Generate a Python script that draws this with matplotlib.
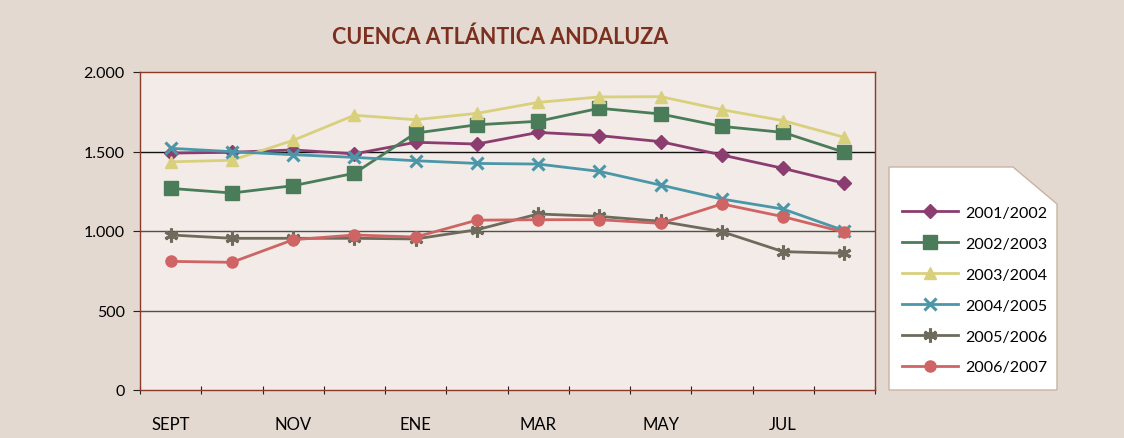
import matplotlib
matplotlib.use("Agg")
import matplotlib.pyplot as plt
from matplotlib.patches import Polygon
from matplotlib.ticker import FuncFormatter

matplotlib.rcParams['font.family'] = ['Lato', 'DejaVu Sans']

months = ['SEPT', 'OCT', 'NOV', 'DIC', 'ENE', 'FEB', 'MAR', 'ABR', 'MAY', 'JUN', 'JUL', 'AGO']
s2001 = [1490, 1495, 1510, 1485, 1558, 1547, 1620, 1600, 1562, 1478, 1394, 1300]
s2002 = [1268, 1239, 1285, 1363, 1616, 1668, 1690, 1772, 1736, 1658, 1620, 1495]
s2003 = [1435, 1445, 1570, 1728, 1700, 1740, 1809, 1843, 1845, 1763, 1694, 1589]
s2004 = [1520, 1499, 1480, 1463, 1442, 1425, 1421, 1375, 1289, 1201, 1138, 1002]
s2005 = [975, 954, 954, 954, 950, 1008, 1107, 1092, 1061, 996, 870, 860]
s2006 = [809, 803, 945, 975, 962, 1068, 1071, 1071, 1048, 1170, 1090, 992]

series = [
    ('2001/2002', s2001, '#8B3D70', 'D', 7, 1),
    ('2002/2003', s2002, '#4A7C59', 's', 10, 1),
    ('2003/2004', s2003, '#D9D07E', '^', 9, 1),
    ('2004/2005', s2004, '#4B97A8', 'x', 9, 2.2),
    ('2005/2006', s2005, '#6E6B5C', (6, 2, 0), 10, 2.2),
    ('2006/2007', s2006, '#CF6464', 'o', 8, 1),
]

fig = plt.figure(figsize=(11.24, 4.39), dpi=100)
fig.patch.set_facecolor('#E4D9D0')
ax = fig.add_axes([140 / 1124, 48 / 439, 735 / 1124, 318 / 439])
ax.set_facecolor('#F2EBE7')

x = list(range(len(months)))
for name, vals, col, mk, ms, mew in series:
    ax.plot(x, vals, color=col, lw=2, marker=mk, markersize=ms,
            markeredgewidth=mew, markeredgecolor=col, markerfacecolor=col,
            label=name)

ax.set_ylim(0, 2000)
ax.set_xlim(-0.5, 11.5)
ax.set_yticks([0, 500, 1000, 1500, 2000])
ax.yaxis.set_major_formatter(FuncFormatter(lambda v, p: f'{int(v):,}'.replace(',', '.')))
for v, c in [(500, '#505050'), (1000, '#505050'), (1500, '#111111')]:
    ax.axhline(v, color=c, lw=1, zorder=0.5)

ax.set_xticks([i - 0.5 for i in range(13)])
ax.set_xticklabels([])
ax.set_xticks(x[::2], minor=True)
ax.set_xticklabels(months[::2], minor=True)
ax.tick_params(axis='x', which='major', direction='inout', length=6, color='#222222')
ax.tick_params(axis='x', which='minor', length=0, pad=19, labelsize=12)
ax.tick_params(axis='y', direction='out', length=5, color='#222222', labelsize=11.5, pad=6)

for sp in ax.spines.values():
    sp.set_color('#8B3A2A')
    sp.set_linewidth(1)

fig.text(500 / 1124, 1 - 37 / 439, 'CUENCA ATLÁNTICA ANDALUZA', ha='center', va='center',
         fontsize=15.5, fontweight='bold', color='#7B2F1E')

pts = [(889, 168), (1013, 168), (1057, 205), (1057, 391), (889, 391)]
poly = Polygon([(px / 1124, 1 - py / 439) for px, py in pts], closed=True,
               transform=fig.transFigure, facecolor='white', edgecolor='#C9B3A3', lw=1)
fig.patches.append(poly)

leg = fig.legend(loc='center left', bbox_to_anchor=(888 / 1124, 1 - 291 / 439),
                 frameon=False, fontsize=11.5, handlelength=3.5, labelspacing=1.05,
                 handletextpad=0.45)

fig.savefig('out.png', dpi=100, facecolor=fig.get_facecolor())
